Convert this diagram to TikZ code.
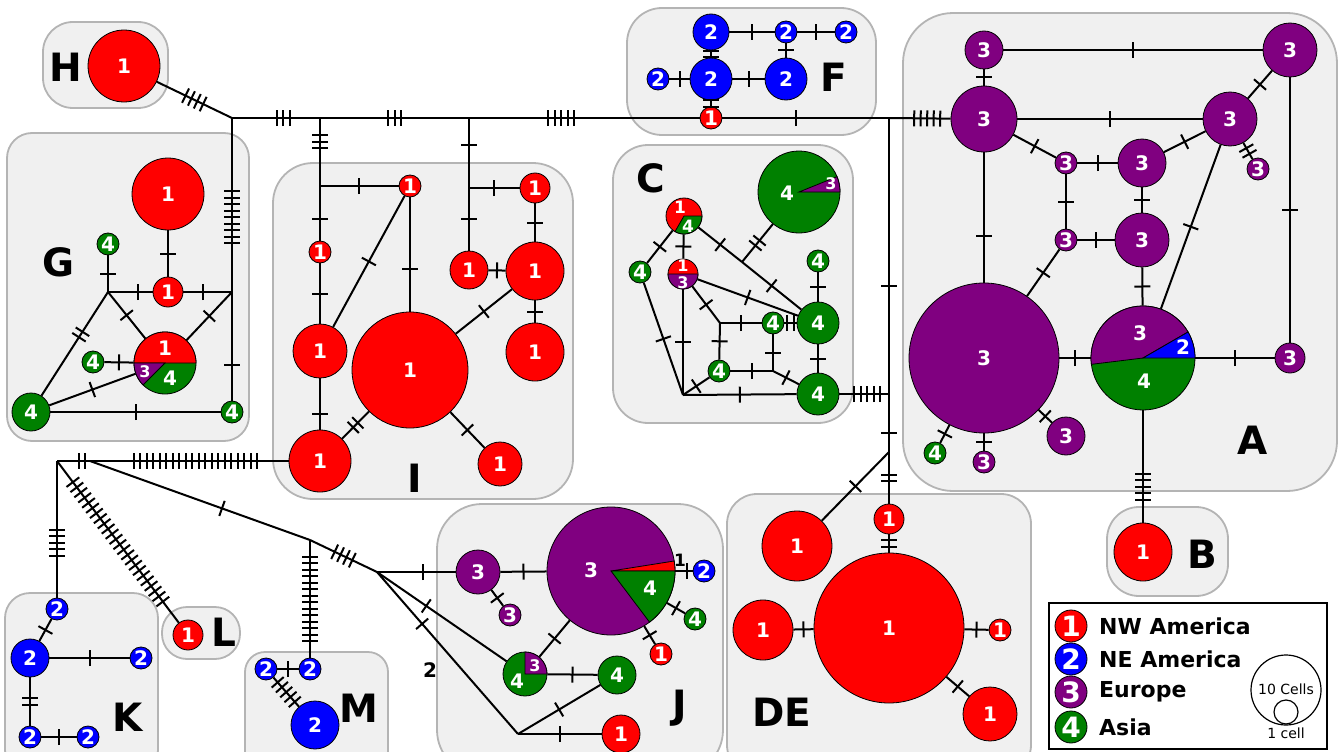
\documentclass[tikz,border=0pt]{standalone}
\usepackage{fontspec}
\setmainfont{DejaVu Sans}
\usetikzlibrary{decorations.markings}
\definecolor{colNW}{HTML}{FF0000}
\definecolor{colNE}{HTML}{0000FF}
\definecolor{colEU}{HTML}{800080}
\definecolor{colAS}{HTML}{008000}
\definecolor{boxfill}{HTML}{F0F0F0}
\definecolor{boxline}{HTML}{B4B4B4}
\newcommand\hsz[1]{\fontsize{#1}{#1}\selectfont}
% one coloured sector of a pie node
\newcommand\pieslice[5]{\filldraw[fill=#2,draw=black,line width=0.8pt] (#1.center) -- ++(#3:#5pt) arc[start angle=#3,end angle=#4,radius=#5pt] -- cycle;}
\tikzset{
  hap/.style={circle,draw=black,line width=0.8pt,inner sep=0pt,minimum size=#1pt,text=white,font=\bfseries\hsz{20}},
  nwam/.style={hap=#1,fill=colNW},
  neam/.style={hap=#1,fill=colNE},
  euro/.style={hap=#1,fill=colEU},
  asia/.style={hap=#1,fill=colAS},
  plbl/.style={text=white,font=\bfseries\hsz{20},inner sep=0pt},
  grp/.style={fill=boxfill,draw=boxline,line width=1.8pt,rounded corners=#1pt},
  glab/.style={font=\bfseries\hsz{39},inner sep=0pt},
  link/.style={line width=2pt},
  mutat/.style 2 args={postaction={decorate,decoration={markings,mark=at position #2 with {\foreach \k in {1,...,#1}{\draw[line width=2pt] ({(\k-(#1+1)/2)*6.5pt},-8pt) -- ++(0,16pt);}}}}},
  mut/.style={mutat={#1}{0.5}},
}
\begin{document}
\begin{tikzpicture}[x=1pt,y=-1pt]
    \useasboundingbox (0,0) rectangle (1339,752);
    % Groups
    \draw[grp=30] (43,22) rectangle (168,108);
    \draw[grp=25] (7,133) rectangle (249,441);
    \draw[grp=40] (273,163) rectangle (573,499);
    \draw[grp=35] (627,8) rectangle (876,135);
    \draw[grp=35] (613,145) rectangle (853,423);
    \draw[grp=50] (903,13) rectangle (1337,491);
    \draw[grp=32] (1107,507) rectangle (1228,596);
    \draw[grp=30] (727,494) rectangle (1031,775);
    \draw[grp=45] (437,504) rectangle (723,775);
    \draw[grp=25] (5,593) rectangle (158,775);
    \draw[grp=25] (162,607) rectangle (240,659);
    \draw[grp=20] (245,652) rectangle (388,775);
    \node[glab] (labH) at (66,67) {H};
    \node[glab] (labG) at (59,262) {G};
    \node[glab] (labI) at (415,478) {I};
    \node[glab] (labF) at (834,77) {F};
    \node[glab] (labC) at (651,178) {C};
    \node[glab] (labA) at (1253,440) {A};
    \node[glab] (labB) at (1202,554) {B};
    \node[glab] (labDE) at (782,712) {DE};
    \node[glab] (labJ) at (680,708) {J};
    \node[glab] (labK) at (128,717) {K};
    \node[glab] (labL) at (224,632) {L};
    \node[glab] (labM) at (359,708) {M};
    % Junctions
    \coordinate (jtop) at (232,118);
    \coordinate (ji1) at (320,118);
    \coordinate (ji1b) at (320,186);
    \coordinate (ji2) at (469,118);
    \coordinate (ji2b) at (469,188);
    \coordinate (jv) at (889,118);
    \coordinate (jvc) at (889,394);
    \coordinate (jvd) at (889,452);
    \coordinate (gjl) at (108,292);
    \coordinate (gjr) at (232,292);
    \coordinate (jk) at (57,461);
    \coordinate (jk2) at (90,461);
    \coordinate (jm) at (310,540);
    \coordinate (jj) at (377,572);
    \coordinate (jj2) at (518,734);
    \coordinate (jc1) at (683,395);
    \coordinate (jc2) at (720,323);
    \coordinate (jc3) at (773,371);
    \coordinate (jc4) at (742,262);
    % H
    \node[nwam=72] (h1) at (124,66) {1};
    % G
    \node[nwam=72] (gbig) at (168,194) {1};
    \node[nwam=30] (gred) at (168,292) {1};
    \node[asia=22] (g4top) at (108,244) {4};
    \node[asia=22] (g4left) at (93,362) {4};
    \node[asia=38] (g4big) at (31,412) {4};
    \node[asia=22] (g4right) at (232,412) {4};
    \node[asia=62] (gpie) at (165,363) {};
    \pieslice{gpie}{colNW}{0}{180}{31}
    \pieslice{gpie}{colEU}{180}{225}{31}
    \node[plbl] (gpie1) at (165,348) {1};
    \node[plbl,font=\bfseries\hsz{16}] (gpie3) at (145,372) {3};
    \node[plbl] (gpie4) at (170,378) {4};
    % I
    \node[nwam=22] (i1s) at (410,186) {1};
    \node[nwam=22] (i2s) at (320,252) {1};
    \node[nwam=54] (i3) at (320,351) {1};
    \node[nwam=62] (i4) at (320,461) {1};
    \node[nwam=116] (ibig) at (410,370) {1};
    \node[nwam=44] (i5) at (500,464) {1};
    \node[nwam=30] (i6s) at (535,188) {1};
    \node[nwam=38] (i7) at (469,270) {1};
    \node[nwam=58] (i8) at (535,271) {1};
    \node[nwam=58] (i9) at (535,352) {1};
    % F
    \node[neam=36] (f2a) at (711,32) {2};
    \node[neam=22] (f2b) at (786,32) {2};
    \node[neam=22] (f2c) at (846,32) {2};
    \node[neam=42] (f2d) at (711,79) {2};
    \node[neam=42] (f2e) at (786,79) {2};
    \node[neam=22] (f2f) at (658,79) {2};
    \node[nwam=22] (f1) at (711,118) {1};
    % C
    \node[asia=82] (c4big) at (799,192) {};
    \pieslice{c4big}{colEU}{0}{22}{41}
    \node[plbl] (c4big4) at (787,193) {4};
    \node[plbl,font=\bfseries\hsz{16}] (c4big3) at (831,184) {3};
    \node[nwam=36] (c14) at (684,216) {};
    \pieslice{c14}{colAS}{240}{360}{18}
    \node[plbl,font=\bfseries\hsz{17}] (c141) at (680,207) {1};
    \node[plbl,font=\bfseries\hsz{17}] (c144) at (688,226) {4};
    \node[nwam=30] (c13) at (683,274) {};
    \pieslice{c13}{colEU}{180}{360}{15}
    \node[plbl,font=\bfseries\hsz{16}] (c131) at (683,266) {1};
    \node[plbl,font=\bfseries\hsz{16}] (c133) at (683,283) {3};
    \node[asia=22] (c4l) at (640,272) {4};
    \node[asia=22] (c4t) at (818,261) {4};
    \node[asia=42] (c4m) at (818,323) {4};
    \node[asia=42] (c4b) at (818,394) {4};
    \node[asia=22] (c4s1) at (773,323) {4};
    \node[asia=22] (c4s2) at (719,371) {4};
    % A
    \node[euro=38] (a3tl) at (984,50) {3};
    \node[euro=54] (a3tr) at (1290,50) {3};
    \node[euro=66] (a3b) at (984,119) {3};
    \node[euro=54] (a3r) at (1230,119) {3};
    \node[euro=22] (a3s1) at (1066,163) {3};
    \node[euro=48] (a3m1) at (1142,163) {3};
    \node[euro=22] (a3s2) at (1258,169) {3};
    \node[euro=22] (a3s3) at (1066,240) {3};
    \node[euro=54] (a3m2) at (1142,240) {3};
    \node[euro=150] (a3huge) at (984,358) {3};
    \node[asia=104] (apie) at (1143,358) {};
    \pieslice{apie}{colEU}{30}{187}{52}
    \pieslice{apie}{colNE}{0}{30}{52}
    \node[plbl] (apie3) at (1140,333) {3};
    \node[plbl] (apie2) at (1183,347) {2};
    \node[plbl] (apie4) at (1144,381) {4};
    \node[euro=30] (a3e) at (1290,358) {3};
    \node[euro=38] (a3bot) at (1066,436) {3};
    \node[asia=22] (a4s) at (935,453) {4};
    \node[euro=22] (a3s4) at (984,462) {3};
    % B
    \node[nwam=58] (b1) at (1143,552) {1};
    % DE
    \node[nwam=30] (de1s) at (889,519) {1};
    \node[nwam=150] (debig) at (889,628) {1};
    \node[nwam=70] (de1l) at (797,546) {1};
    \node[nwam=60] (de1w) at (763,630) {1};
    \node[nwam=22] (de1e) at (1000,630) {1};
    \node[nwam=54] (de1se) at (990,714) {1};
    % J
    \node[euro=44] (j3a) at (478,572) {3};
    \node[euro=22] (j3b) at (510,615) {3};
    \node[euro=128] (jpie) at (611,571) {};
    \pieslice{jpie}{colNW}{0}{9}{64}
    \pieslice{jpie}{colAS}{307}{360}{64}
    \node[plbl] (jpie3) at (591,570) {3};
    \node[plbl] (jpie4) at (650,588) {4};
    \node[font=\bfseries\hsz{17},inner sep=0pt] (jpie1) at (680,560) {1};
    \node[neam=22] (j2) at (704,571) {2};
    \node[asia=22] (j4a) at (695,619) {4};
    \node[nwam=22] (j1r) at (661,654) {1};
    \node[asia=44] (jpie2) at (525,674) {};
    \pieslice{jpie2}{colEU}{0}{90}{22}
    \node[plbl,font=\bfseries\hsz{16}] (jpie23) at (535,666) {3};
    \node[plbl] (jpie24) at (517,681) {4};
    \node[asia=38] (j4b) at (617,675) {4};
    \node[nwam=38] (j1b) at (621,734) {1};
    \node[font=\bfseries\hsz{20},inner sep=0pt] (lab2) at (430,670) {2};
    % K, L, M
    \node[neam=22] (k1) at (57,609) {2};
    \node[neam=38] (k2) at (30,658) {2};
    \node[neam=22] (k3) at (141,658) {2};
    \node[neam=22] (k4) at (30,737) {2};
    \node[neam=22] (k5) at (88,737) {2};
    \node[nwam=30] (l1) at (188,635) {1};
    \node[neam=22] (m1) at (310,669) {2};
    \node[neam=22] (m2) at (266,669) {2};
    \node[neam=48] (m3) at (315,725) {2};
    % Backbone
    \draw[link,mut=4] (h1) -- (jtop);
    \draw[link,mutat={3}{0.58}] (jtop) -- (ji1);
    \draw[link,mut=3] (ji1) -- (ji2);
    \draw[link,mutat={5}{0.4}] (ji2) -- (f1);
    \draw[link,mutat={1}{0.44}] (f1) -- (jv);
    \draw[link,mutat={5}{0.62}] (jv) -- (a3b);
    \draw[link,mutat={1}{0.61}] (jv) -- (jvc);
    \draw[link,mutat={1}{0.67}] (jvc) -- (jvd);
    % G links
    \draw[link,mutat={9}{0.57}] (jtop) -- (gjr);
    \draw[link,mutat={1}{0.67}] (gjr) -- (g4right);
    \draw[link,mut=1] (gbig) -- (gred);
    \draw[link,mut=1] (g4top) -- (gjl);
    \draw[link,mutat={1}{0.67}] (gjl) -- (gred);
    \draw[link,mutat={1}{0.4}] (gred) -- (gjr);
    \draw[link,mut=1] (gjl) -- (gpie);
    \draw[link,mut=1] (gjr) -- (gpie);
    \draw[link,mut=1] (g4left) -- (gpie);
    \draw[link,mutat={2}{0.41}] (gjl) -- (g4big);
    \draw[link,mut=1] (g4big) -- (gpie);
    \draw[link,mut=1] (g4big) -- (g4right);
    % I links
    \draw[link,mutat={3}{0.35}] (ji1) -- (ji1b);
    \draw[link,mut=1] (ji1b) -- (i1s);
    \draw[link,mutat={1}{0.6}] (ji1b) -- (i2s);
    \draw[link,mut=1] (i2s) -- (i3);
    \draw[link,mutat={1}{0.7}] (i3) -- (i4);
    \draw[link,mut=1] (i1s) -- (i3);
    \draw[link,mutat={1}{0.63}] (i1s) -- (ibig);
    \draw[link,mut=2] (ibig) -- (i4);
    \draw[link,mut=1] (ibig) -- (i5);
    \draw[link,mutat={1}{0.38}] (ji2) -- (ji2b);
    \draw[link,mut=1] (ji2b) -- (i6s);
    \draw[link,mut=1] (ji2b) -- (i7);
    \draw[link,mut=1] (i6s) -- (i8);
    \draw[link,mut=1] (i7) -- (i8);
    \draw[link,mut=1] (i8) -- (i9);
    \draw[link,mut=1] (i8) -- (ibig);
    % K, L, M links
    \draw[link,mutat={20}{0.47}] (i4) -- (jk2);
    \draw[link,mutat={2}{0.25}] (jk2) -- (jk);
    \draw[link,mutat={5}{0.6}] (jk) -- (k1);
    \draw[link,mut=24] (jk) -- (l1);
    \draw[link,mutat={1}{0.6}] (jk2) -- (jm);
    \draw[link,mut=14] (jm) -- (m1);
    \draw[link,mut=4] (jm) -- (jj);
    \draw[link,mut=1] (k1) -- (k2);
    \draw[link,mut=1] (k2) -- (k3);
    \draw[link,mut=2] (k2) -- (k4);
    \draw[link,mut=1] (k4) -- (k5);
    \draw[link,mut=1] (m2) -- (m1);
    \draw[link,mut=5] (m2) -- (m3);
    % J links
    \draw[link,mutat={1}{0.58}] (jj) -- (j3a);
    \draw[link,mutat={1}{0.38}] (jj) -- (jpie2);
    \draw[link,mutat={1}{0.32}] (jj) -- (jj2);
    \draw[link,mut=1] (j3a) -- (jpie);
    \draw[link,mut=1] (j3a) -- (j3b);
    \draw[link,mutat={1}{0.67}] (jpie) -- (j2);
    \draw[link,mut=1] (jpie) -- (j4a);
    \draw[link,mut=1] (jpie) -- (j1r);
    \draw[link,mut=1] (jpie) -- (jpie2);
    \draw[link,mut=1] (jpie2) -- (j4b);
    \draw[link,mut=1] (jj2) -- (j4b);
    \draw[link,mut=1] (jj2) -- (j1b);
    % F links
    \draw[link,mut=1] (f2a) -- (f2b);
    \draw[link,mut=1] (f2b) -- (f2c);
    \draw[link,mut=2] (f2a) -- (f2d);
    \draw[link,mut=1] (f2b) -- (f2e);
    \draw[link,mut=1] (f2f) -- (f2d);
    \draw[link,mut=1] (f2d) -- (f2e);
    \draw[link,mut=2] (f2d) -- (f1);
    % C links
    \draw[link,mut=1] (c14) -- (c13);
    \draw[link,mut=1] (c14) -- (c4l);
    \draw[link,mut=1] (c14) -- (jc4);
    \draw[link,mut=1] (jc4) -- (c4m);
    \draw[link,mut=2] (c4big) -- (jc4);
    \draw[link,mut=1] (c13) -- (c4m);
    \draw[link,mut=1] (c13) -- (jc2);
    \draw[link,mut=1] (c13) -- (jc1);
    \draw[link,mut=1] (c4l) -- (jc1);
    \draw[link,mut=1] (jc2) -- (c4s1);
    \draw[link,mut=2] (c4s1) -- (c4m);
    \draw[link,mut=1] (jc2) -- (c4s2);
    \draw[link,mut=1] (c4s1) -- (jc3);
    \draw[link,mut=1] (c4s2) -- (jc3);
    \draw[link,mut=1] (jc3) -- (c4b);
    \draw[link,mut=1] (c4s2) -- (jc1);
    \draw[link,mut=1] (jc1) -- (c4b);
    \draw[link,mut=1] (c4t) -- (c4m);
    \draw[link,mut=1] (c4m) -- (c4b);
    \draw[link,mutat={5}{0.56}] (c4b) -- (jvc);
    % DE links
    \draw[link,mut=2] (jvd) -- (de1s);
    \draw[link,mut=1] (jvd) -- (de1l);
    \draw[link,mut=2] (de1s) -- (debig);
    \draw[link,mut=1] (de1w) -- (debig);
    \draw[link,mut=1] (debig) -- (de1e);
    \draw[link,mut=1] (debig) -- (de1se);
    % A links
    \draw[link,mut=1] (a3tl) -- (a3b);
    \draw[link,mut=1] (a3tl) -- (a3tr);
    \draw[link,mut=1] (a3b) -- (a3r);
    \draw[link,mut=1] (a3r) -- (a3tr);
    \draw[link,mut=2] (a3r) -- (a3s2);
    \draw[link,mut=1] (a3b) -- (a3s1);
    \draw[link,mut=1] (a3s1) -- (a3m1);
    \draw[link,mut=1] (a3m1) -- (a3r);
    \draw[link,mut=1] (a3s1) -- (a3s3);
    \draw[link,mut=1] (a3m1) -- (a3m2);
    \draw[link,mut=1] (a3s3) -- (a3m2);
    \draw[link,mutat={1}{0.64}] (a3b) -- (a3huge);
    \draw[link,mut=1] (a3s3) -- (a3huge);
    \draw[link,mut=1] (a3m2) -- (apie);
    \draw[link,mut=1] (a3r) -- (apie);
    \draw[link,mut=1] (a3tr) -- (a3e);
    \draw[link,mut=1] (a3huge) -- (apie);
    \draw[link,mut=1] (apie) -- (a3e);
    \draw[link,mut=1] (a3huge) -- (a3bot);
    \draw[link,mut=1] (a3huge) -- (a4s);
    \draw[link,mut=1] (a3huge) -- (a3s4);
    \draw[link,mutat={5}{0.68}] (apie) -- (b1);
    % Legend
    \draw[fill=white,line width=1.8pt] (1049,603) rectangle (1327,749);
    \node[nwam=32,font=\bfseries\hsz{28}] (lg1) at (1071,626) {1};
    \node[neam=32,font=\bfseries\hsz{28}] (lg2) at (1071,659) {2};
    \node[euro=32,font=\bfseries\hsz{28}] (lg3) at (1071,692) {3};
    \node[asia=32,font=\bfseries\hsz{28}] (lg4) at (1071,727) {4};
    \node[anchor=west,font=\bfseries\hsz{22},inner sep=0pt] (lt1) at (1099,626) {NW America};
    \node[anchor=west,font=\bfseries\hsz{22},inner sep=0pt] (lt2) at (1099,659) {NE America};
    \node[anchor=west,font=\bfseries\hsz{22},inner sep=0pt] (lt3) at (1099,692) {Europe};
    \node[anchor=west,font=\bfseries\hsz{22},inner sep=0pt] (lt4) at (1099,727) {Asia};
    \node[circle,draw,line width=1.2pt,minimum size=70pt,inner sep=0pt] (sz10) at (1286,690) {};
    \node[circle,draw,line width=1.2pt,minimum size=24pt,inner sep=0pt] (sz1) at (1286,712) {};
    \node[font=\hsz{14},inner sep=0pt] (sz10t) at (1286,689) {10 Cells};
    \node[font=\hsz{14},inner sep=0pt] (sz1t) at (1286,733) {1 cell};
\end{tikzpicture}
\end{document}
